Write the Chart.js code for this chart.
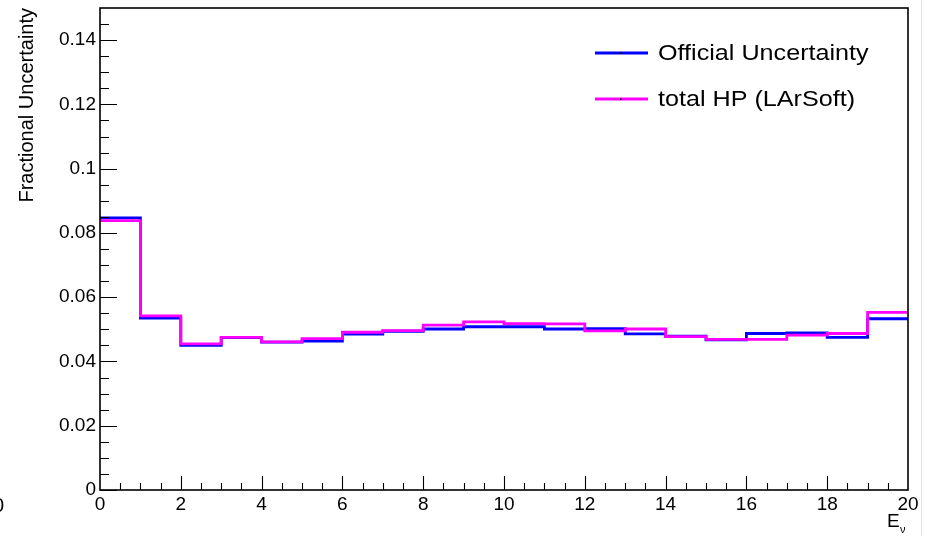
<!DOCTYPE html>
<html>
<head>
<meta charset="utf-8">
<script src="https://cdn.jsdelivr.net/npm/chart.js@4/dist/chart.umd.min.js"></script>
<style>
  html, body { margin: 0; padding: 0; background: #fff; }
  #wrap { position: relative; width: 934px; height: 536px; overflow: hidden; background: #fff; }
  #edge { position: absolute; left: 921px; top: 0; width: 1px; height: 536px; background: #e6e6e6; }
</style>
</head>
<body>
<div id="wrap">
  <canvas id="c" width="934" height="536"></canvas>
  <div id="edge"></div>
</div>
<script>
// ---- data ----
const binEdges = [0,1,2,3,4,5,6,7,8,9,10,11,12,13,14,15,16,17,18,19,20];
const officialUncertainty = [0.0847,0.0535,0.0450,0.0474,0.0460,0.0463,0.0485,0.0494,0.0501,0.0508,
                             0.0508,0.0501,0.0502,0.0486,0.0479,0.0467,0.0487,0.0489,0.0475,0.0533];
const totalHP = [0.0838,0.0542,0.0455,0.0475,0.0461,0.0471,0.0491,0.0496,0.0513,0.0523,
                 0.0518,0.0517,0.0495,0.0501,0.0477,0.0469,0.0469,0.0482,0.0487,0.0553];
const seriesNames = ['Official Uncertainty', 'total HP (LArSoft)'];
const yTitle = 'Fractional Uncertainty';
const xTitle = 'E';
const xTitleSub = 'ν';
const yTickValues = [0,0.02,0.04,0.06,0.08,0.1,0.12,0.14];

const FONT = '"Liberation Sans", Arial, Helvetica, sans-serif';

function histPoints(vals) {
  const pts = vals.map((v, i) => ({x: binEdges[i], y: v}));
  pts.push({x: binEdges[binEdges.length - 1], y: vals[vals.length - 1]});
  return pts;
}

const rootPlugin = {
  id: 'rootStyle',
  afterDraw(chart) {
    const c = chart.ctx;
    const xs = chart.scales.x, ys = chart.scales.y;
    const L = xs.getPixelForValue(0), R = xs.getPixelForValue(20);
    const T = ys.getPixelForValue(0.15), B = ys.getPixelForValue(0);
    c.save();
    // frame
    c.strokeStyle = '#000';
    c.lineWidth = 1.6;
    c.strokeRect(L, T, R - L, B - T);
    // ticks (inward, ROOT style)
    c.lineWidth = 1.1;
    c.beginPath();
    for (let i = 0; i <= 30; i++) {
      const v = i * 0.005;
      if (v > 0.1499) break;
      const py = Math.round(ys.getPixelForValue(v)) + 0.5;
      const len = (i % 4 === 0) ? 17 : 9;
      c.moveTo(L, py); c.lineTo(L + len, py);
    }
    for (let i = 1; i < 40; i++) {
      const v = i * 0.5;
      const px = Math.round(xs.getPixelForValue(v)) + 0.5;
      const len = (i % 4 === 0) ? 14 : 7;
      c.moveTo(px, B); c.lineTo(px, B - len);
    }
    c.stroke();

    // legend
    const ds = chart.data.datasets;
    const legY = [53, 99];
    for (let k = 0; k < 2; k++) {
      c.strokeStyle = ds[k].borderColor;
      c.lineWidth = 2.8;
      c.beginPath(); c.moveTo(595, legY[k]); c.lineTo(648, legY[k]); c.stroke();
      c.fillStyle = '#000';
      c.fillRect(620, legY[k] - 0.5, 1.5, 1.5);
      c.save();
      c.translate(658, legY[k]);
      c.scale(1.17, 1);
      c.font = '21.5px ' + FONT;
      c.textBaseline = 'middle';
      c.textAlign = 'left';
      c.fillStyle = '#000';
      c.fillText(seriesNames[k], 0, 1);
      c.restore();
    }

    // x axis title E_nu
    c.fillStyle = '#000';
    c.textAlign = 'left';
    c.textBaseline = 'alphabetic';
    c.font = '19px ' + FONT;
    c.fillText(xTitle, 887, 527);
    c.font = '11px ' + FONT;
    c.fillText(xTitleSub, 900, 533);

    // clipped stray label at far left
    c.font = '20px ' + FONT;
    c.textBaseline = 'middle';
    c.fillText('0', -7, 506);
    c.restore();
  }
};

new Chart(document.getElementById('c'), {
  type: 'line',
  data: {
    datasets: [
      {
        label: seriesNames[0],
        data: histPoints(officialUncertainty),
        borderColor: '#0000ff',
        borderWidth: 2.8,
        stepped: true,
        pointRadius: 0,
        fill: false,
        order: 1
      },
      {
        label: seriesNames[1],
        data: histPoints(totalHP),
        borderColor: '#ff00ff',
        borderWidth: 2.8,
        stepped: true,
        pointRadius: 0,
        fill: false,
        order: 0
      }
    ]
  },
  options: {
    responsive: false,
    animation: false,
    devicePixelRatio: 1,
    layout: { padding: { top: 8, right: 26, left: 0, bottom: 0 } },
    plugins: { legend: { display: false }, tooltip: { enabled: false } },
    scales: {
      x: {
        type: 'linear',
        min: 0, max: 20,
        grid: { display: false, drawTicks: false },
        border: { display: false },
        ticks: {
          stepSize: 2, autoSkip: false, maxRotation: 0,
          color: '#000', padding: 3,
          font: { family: FONT, size: 19 }
        },
        afterFit(s) { s.height = 46; s.paddingLeft = 0; s.paddingRight = 0; }
      },
      y: {
        type: 'linear',
        min: 0, max: 0.15,
        grid: { display: false, drawTicks: false },
        border: { display: false },
        ticks: {
          stepSize: 0.02, autoSkip: false,
          color: '#000', padding: 4,
          font: { family: FONT, size: 19 },
          callback: v => String(+(+v).toFixed(3))
        },
        afterBuildTicks(s) {
          s.ticks = yTickValues.map(v => ({ value: v }));
        },
        title: {
          display: true, text: yTitle, align: 'end',
          color: '#000',
          font: { family: FONT, size: 20 },
          padding: { top: 15, bottom: 0 }
        },
        afterFit(s) { s.width = 100; s.paddingTop = 0; s.paddingBottom = 0; }
      }
    }
  },
  plugins: [rootPlugin]
});
</script>
</body>
</html>
